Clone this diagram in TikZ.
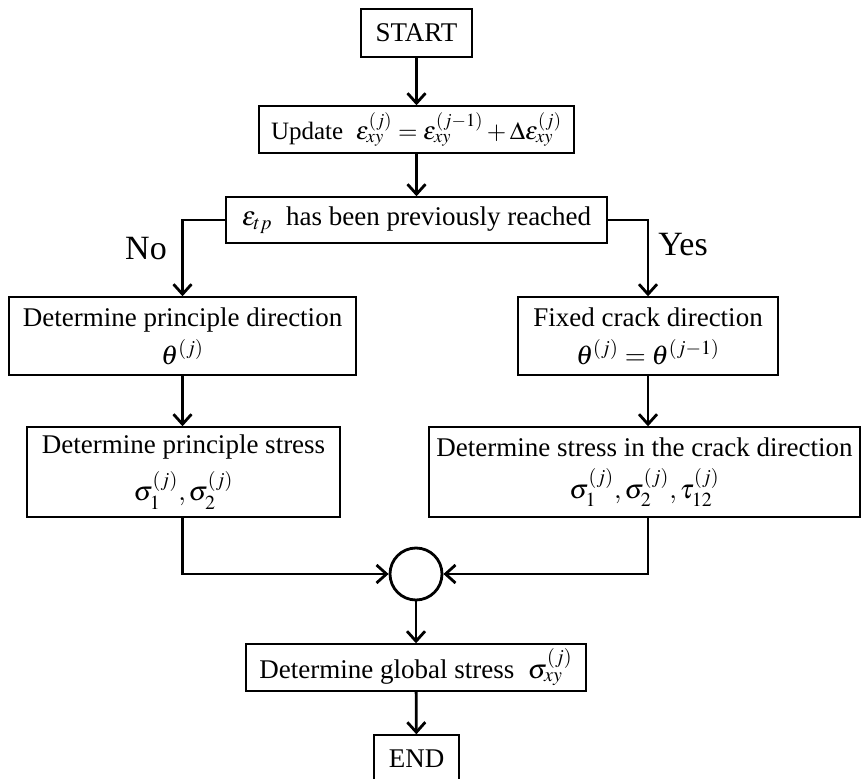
\documentclass[tikz,border=0pt]{standalone}
\usepackage{mathptmx}
\usepackage{fontspec}
\setmainfont{Liberation Serif}
\usetikzlibrary{arrows.meta}

\begin{document}
\begin{tikzpicture}[x=0.5pt,y=-0.5pt,
		box/.style={draw,line width=0.7pt,align=center,inner sep=0pt,font=\fontsize{13.5}{16}\selectfont},
		arr/.style={line width=1.4pt,-{Straight Barb[length=5pt,width=9pt,line width=1.4pt]}},
		lab/.style={font=\fontsize{17}{19}\selectfont}]
	\useasboundingbox (0,0) rectangle (861,779);
	\node[box,minimum width=55.5pt,minimum height=24pt] (start) at (416.5,33) {START};
	\node[box,minimum width=157.5pt,minimum height=23.5pt,font=\fontsize{12.5}{15}\selectfont] (update) at (416.5,129.5)
		{Update \ $\varepsilon_{xy}^{(j)}=\varepsilon_{xy}^{(j-1)}+\Delta\varepsilon_{xy}^{(j)}$};
	\node[box,minimum width=190.5pt,minimum height=23pt] (reached) at (416.5,220)
		{$\varepsilon_{tp}$ \ has been previously reached};
	\node[box,minimum width=173.5pt,minimum height=39pt] (dirn) at (182.5,336)
		{Determine principle direction\\[3pt] $\theta^{(j)}$};
	\node[box,minimum width=130pt,minimum height=39pt] (fixed) at (648,336)
		{Fixed crack direction\\[3pt] $\theta^{(j)}=\theta^{(j-1)}$};
	\node[box,minimum width=156.5pt,minimum height=45pt] (pstress) at (183.5,472)
		{Determine principle stress\\[5pt] $\sigma_1^{(j)},\sigma_2^{(j)}$};
	\node[box,minimum width=215.5pt,minimum height=45pt] (cstress) at (644.5,472)
		{Determine stress in the crack direction\\[5pt] $\sigma_1^{(j)},\sigma_2^{(j)},\tau_{12}^{(j)}$};
	\node[circle,draw,line width=1.4pt,minimum size=26pt,inner sep=0pt] (join) at (416,574) {};
	\node[box,minimum width=170pt,minimum height=23.5pt] (global) at (416,667.5)
		{Determine global stress \ $\sigma_{xy}^{(j)}$};
	\node[box,minimum width=42.5pt,minimum height=24pt] (finish) at (416.5,759) {END};
	\node[lab] (no) at (146,249) {No};
	\node[lab] (yes) at (683,245) {Yes};
	% connectors
	\draw[arr] (start) -- (update);
	\draw[arr] (update) -- (reached);
	\draw[arr] (reached.west) -| (dirn.north);
	\draw[arr] (reached.east) -| (fixed.north);
	\draw[arr] (dirn.south) -- (dirn.south |- pstress.north);
	\draw[arr] (fixed.south) -- (fixed.south |- cstress.north);
	\draw[arr] (pstress.south -| dirn.south) |- (join.west);
	\draw[arr] (cstress.south -| fixed.south) |- (join.east);
	\draw[arr] (join) -- (global);
	\draw[arr] (global) -- (finish);
\end{tikzpicture}
\end{document}
